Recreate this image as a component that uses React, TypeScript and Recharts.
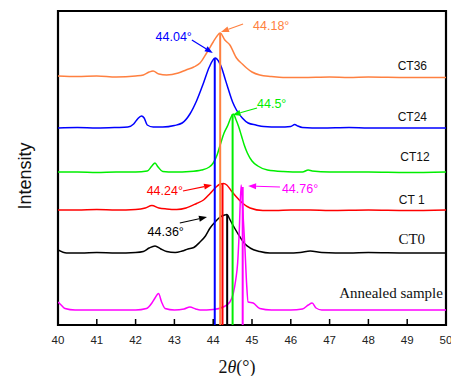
import {
  LineChart,
  Line,
  XAxis,
  YAxis,
  ReferenceLine,
  ReferenceArea,
  ReferenceDot,
} from "recharts";

// 2θ tick labels
const thetaTicks = [40, 41, 42, 43, 44, 45, 46, 47, 48, 49, 50];

// stacked XRD patterns: [2θ, intensity (offset, a.u.)]
const ct36: [number, number][] = [
  [40, 249], [40.5, 248.5], [41, 249], [41.5, 248], [42, 249], [42.2, 250], [42.35, 253],
  [42.45, 254], [42.6, 251], [42.8, 250], [43.1, 252], [43.3, 255], [43.5, 258], [43.66, 262],
  [43.83, 272], [44, 283], [44.1, 289], [44.18, 292], [44.3, 285], [44.43, 280], [44.6, 267],
  [44.75, 261], [44.86, 257], [45, 253], [45.2, 250], [45.5, 248.5], [45.8, 247.5], [46.3, 247.5],
  [47, 248], [47.5, 247.5], [48, 248], [49, 247.5], [50, 247.5],
];

const ct24: [number, number][] = [
  [40, 197], [40.5, 197.5], [41, 197], [41.5, 197.5], [41.8, 198], [41.95, 201], [42.05, 206],
  [42.15, 209], [42.22, 207], [42.3, 200], [42.45, 198], [42.7, 198], [43, 199.5], [43.2, 202],
  [43.4, 211], [43.57, 224], [43.75, 242], [43.9, 258], [44.05, 267], [44.15, 263], [44.22, 257],
  [44.3, 247], [44.38, 237], [44.5, 223], [44.6, 215], [44.75, 207], [44.9, 202], [45.1, 200],
  [45.3, 198.5], [45.7, 198], [46, 198.5], [46.1, 200.5], [46.18, 199], [46.3, 197.5],
  [46.8, 197], [47.5, 197.5], [48, 197], [49, 197], [50, 197],
];

const ct12: [number, number][] = [
  [40, 153], [40.5, 153], [41, 152.5], [41.5, 153], [42, 153], [42.3, 154], [42.42, 159],
  [42.5, 162], [42.58, 158], [42.7, 153.5], [43, 153], [43.4, 153.5], [43.7, 155], [43.9, 158],
  [44, 162], [44.1, 170], [44.18, 180], [44.28, 192], [44.38, 200], [44.45, 207], [44.52, 211],
  [44.58, 206], [44.65, 199], [44.73, 189], [44.8, 180], [44.88, 172], [45, 164], [45.15, 159],
  [45.4, 155], [45.8, 153.5], [46.3, 153], [46.45, 155], [46.55, 154], [47, 153], [48, 153],
  [49, 152.5], [50, 153],
];

const ct1: [number, number][] = [
  [40, 115], [40.5, 115], [41, 115.5], [41.5, 115], [42, 115.5], [42.25, 117], [42.42, 119.5],
  [42.6, 117], [42.8, 116], [43.06, 115.5], [43.3, 117], [43.57, 121.5], [43.75, 125],
  [43.92, 131.5], [44.05, 137], [44.18, 141], [44.27, 141.5], [44.35, 140], [44.47, 134],
  [44.6, 128], [44.75, 122], [44.95, 117], [45.28, 114.5], [45.6, 114.5], [46, 115], [46.5, 115],
  [47, 114.5], [48, 115], [49, 114.5], [50, 115],
];

const ct0: [number, number][] = [
  [40, 75], [40.22, 72], [40.6, 72], [41, 72.5], [41.5, 72], [42, 72.5], [42.2, 73.5], [42.35, 77],
  [42.5, 79], [42.65, 76], [42.8, 73.5], [43.02, 72.5], [43.2, 74], [43.35, 76], [43.5, 77.5],
  [43.66, 83], [43.8, 89], [43.92, 97], [44.05, 103], [44.18, 108], [44.3, 110], [44.35, 110.5],
  [44.45, 104], [44.55, 97], [44.69, 88], [44.82, 81], [44.95, 77], [45.2, 73.5], [45.46, 72],
  [45.9, 72], [46.24, 72.5], [46.5, 74], [46.8, 72.5], [47.5, 72], [48, 72.5], [49, 72], [50, 72],
];

const annealed: [number, number][] = [
  [40, 23], [40.08, 20], [40.18, 16.5], [40.44, 15], [41, 15], [41.5, 15], [42, 15], [42.28, 16.5],
  [42.42, 22], [42.5, 27], [42.59, 31.5], [42.67, 23], [42.76, 16.5], [43, 15], [43.25, 16],
  [43.4, 18], [43.55, 16], [43.66, 15], [44, 15.5], [44.26, 18], [44.43, 23], [44.52, 32],
  [44.58, 45], [44.63, 62], [44.67, 92], [44.72, 140], [44.77, 110], [44.82, 75], [44.86, 42],
  [44.9, 23], [45.03, 22], [45.2, 16.5], [45.5, 15], [46, 15], [46.3, 16], [46.45, 20],
  [46.55, 22], [46.65, 17], [46.8, 15], [47.5, 15], [48, 15], [49, 15], [50, 15],
];

const sampleNames = ["CT36", "CT24", "CT12", "CT 1", "CT0", "Annealed sample"];
const peakTheta = [44.18, 44.04, 44.5, 44.24, 44.36, 44.76];
const peakTop = [292, 267, 211, 141, 110, 138];
const peakLabels = ["44.18°", "44.04°", "44.5°", "44.24°", "44.36°", "44.76°"];
// arrow tail / head in data units
const arrowFrom: [number, number][] = [
  [44.77, 301], [43.45, 285], [45.13, 217], [43.22, 134], [43.14, 102], [45.72, 138],
];
const arrowTo: [number, number][] = [
  [44.2, 293], [43.99, 272], [44.5, 210], [43.97, 140], [43.84, 108], [44.9, 139],
];
// where each curve's name sits
const nameTheta = [49.51, 49.51, 49.58, 49.45, 49.46, 49.92];
const nameLevel = [259, 208, 168, 125, 86, 32];

const series = [ct36, ct24, ct12, ct1, ct0, annealed];
const colors = ["#ff8040", "#0000ff", "#00ee00", "#ff0000", "#000000", "#ff00ff"];
const serifName = [false, false, false, false, true, true];
// text placement relative to arrow tail (px)
const textLayout = [
  { anchor: "start", dx: 10, dy: 2 },
  { anchor: "end", dx: 0, dy: -3 },
  { anchor: "start", dx: 0, dy: -4 },
  { anchor: "end", dx: 0, dy: 0 },
  { anchor: "end", dx: 4, dy: 9 },
  { anchor: "start", dx: 2, dy: 2 },
];

const sans = "'Liberation Sans', Arial, sans-serif";
const serif = "'Liberation Serif', 'Times New Roman', serif";

function makeArrow(i: number) {
  return (p: any) => {
    const { x1, y1, x2, y2 } = p;
    const ang = Math.atan2(y2 - y1, x2 - x1);
    const len = 8;
    const half = 3;
    const bx = x2 - len * Math.cos(ang);
    const by = y2 - len * Math.sin(ang);
    const pts = `${x2},${y2} ${bx - half * Math.sin(ang)},${by + half * Math.cos(ang)} ${bx + half * Math.sin(ang)},${by - half * Math.cos(ang)}`;
    const t = textLayout[i];
    return (
      <g>
        <line x1={x1} y1={y1} x2={bx} y2={by} stroke={colors[i]} strokeWidth={1.2} />
        <polygon points={pts} fill={colors[i]} />
        <text
          x={x1 + t.dx}
          y={y1 + t.dy}
          textAnchor={t.anchor as any}
          dominantBaseline="central"
          fill={colors[i]}
          fontFamily={sans}
          fontSize={12.5}
        >
          {peakLabels[i]}
        </text>
      </g>
    );
  };
}

function makeName(i: number) {
  return (p: any) => (
    <text
      x={p.cx}
      y={p.cy}
      textAnchor="end"
      dominantBaseline="central"
      fill="#111"
      fontFamily={serifName[i] ? serif : sans}
      fontSize={serifName[i] ? 15 : 12}
    >
      {sampleNames[i]}
    </text>
  );
}

const XLabel = (props: any) => {
  const vb = props.viewBox || { x: 50, y: 317, width: 388, height: 40 };
  return (
    <text
      x={vb.x + vb.width / 2 - 15}
      y={vb.y + 42}
      textAnchor="middle"
      dominantBaseline="central"
      fontFamily={serif}
      fontSize={18}
      fill="#111"
    >
      2<tspan fontStyle="italic">θ</tspan>(°)
    </text>
  );
};

const YLabel = (props: any) => {
  const vb = props.viewBox || { x: 0, y: 3, width: 50, height: 314 };
  const cx = vb.x + 17;
  const cy = vb.y + vb.height / 2 + 8;
  return (
    <text
      x={cx}
      y={cy}
      transform={`rotate(-90, ${cx}, ${cy})`}
      textAnchor="middle"
      dominantBaseline="central"
      fontFamily={sans}
      fontSize={18}
      fill="#111"
    >
      Intensity
    </text>
  );
};

export default function App() {
  return (
    <div style={{ width: 451, height: 368 }}>
      <LineChart
        width={451}
        height={368}
        margin={{ top: 3, right: 13, bottom: 11, left: 0 }}
      >
        <XAxis
          dataKey="x"
          type="number"
          domain={[40, 50]}
          ticks={thetaTicks}
          allowDataOverflow
          height={40}
          axisLine={false}
          tickLine={{ stroke: "#000", strokeWidth: 1.5 }}
          tickSize={-6}
          tickMargin={17}
          tick={{ fill: "#222", fontSize: 11.5, fontFamily: sans }}
          label={{ content: XLabel }}
        />
        <YAxis
          type="number"
          domain={[0, 314]}
          allowDataOverflow
          width={50}
          tick={false}
          axisLine={false}
          tickLine={false}
          label={{ content: YLabel }}
        />

        {series.map((pts, i) => (
          <Line
            key={sampleNames[i]}
            data={pts.map(([x, y]) => ({ x, y }))}
            dataKey="y"
            type="monotone"
            dot={false}
            stroke={colors[i]}
            strokeWidth={1.5}
            isAnimationActive={false}
          />
        ))}

        {peakTheta.map((t, i) => (
          <ReferenceLine
            key={`peak-${i}`}
            segment={[{ x: t, y: 0 }, { x: t, y: peakTop[i] }]}
            stroke={colors[i]}
            strokeWidth={2}
          />
        ))}

        {peakLabels.map((_, i) => (
          <ReferenceLine
            key={`arrow-${i}`}
            segment={[
              { x: arrowFrom[i][0], y: arrowFrom[i][1] },
              { x: arrowTo[i][0], y: arrowTo[i][1] },
            ]}
            shape={makeArrow(i)}
          />
        ))}

        {sampleNames.map((_, i) => (
          <ReferenceDot
            key={`name-${i}`}
            x={nameTheta[i]}
            y={nameLevel[i]}
            shape={makeName(i)}
          />
        ))}

        <ReferenceArea
          x1={40}
          x2={50}
          y1={0}
          y2={314}
          fill="none"
          stroke="#000"
          strokeWidth={2.2}
        />
      </LineChart>
    </div>
  );
}
